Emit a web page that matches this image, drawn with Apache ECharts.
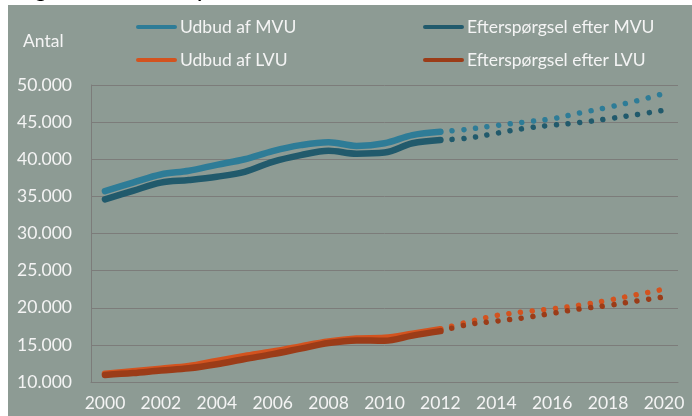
<!DOCTYPE html>
<html>
<head>
<meta charset="utf-8">
<script src="https://cdn.jsdelivr.net/npm/echarts@6/dist/echarts.min.js"></script>
<style>
html,body{margin:0;padding:0;background:#ffffff;}
#chart{width:692px;height:416px;}
</style>
</head>
<body>
<div id="chart"></div>
<script>
// ---- data ----
const years = ['2000','2001','2002','2003','2004','2005','2006','2007','2008','2009','2010',
               '2011','2012','2013','2014','2015','2016','2017','2018','2019','2020'];
// observed 2000-2012
const udbudMVU = [35700, 36850, 37950, 38450, 39250, 40000, 41100, 41900, 42300, 41800, 42150, 43250, 43700];
const efterMVU = [34600, 35750, 36850, 37200, 37650, 38300, 39650, 40550, 41150, 40750, 40900, 42150, 42600];
const udbudLVU = [11100, 11450, 11800, 12150, 12850, 13500, 14100, 14800, 15450, 15850, 15950, 16500, 17100];
const efterLVU = [10950, 11200, 11550, 11850, 12400, 13100, 13750, 14500, 15250, 15600, 15550, 16250, 16850];
// projection 2012-2020
const udbudMVUprog = [43700, 44050, 44550, 45000, 45450, 46250, 47000, 47850, 48850];
const efterMVUprog = [42600, 42850, 43500, 44150, 44600, 44950, 45450, 46000, 46600];
const udbudLVUprog = [17100, 18100, 18950, 19450, 19850, 20350, 21000, 21750, 22500];
const efterLVUprog = [16850, 17750, 18200, 18650, 19250, 19850, 20300, 20900, 21450];

const names = ['Udbud af MVU', 'Efterspørgsel efter MVU', 'Udbud af LVU', 'Efterspørgsel efter LVU'];
const colors = ['#2e7c97', '#215a6c', '#d3531f', '#9b3c18'];
const yAxisName = 'Antal';
const titleText = 'Figur 1. Udbudsanalyse';

const FONT = 'Lato';
const projStart = years.indexOf('2012');

function pad(obs) { return obs.concat(new Array(years.length - obs.length).fill(null)); }
function padProg(prog) { return new Array(projStart).fill(null).concat(prog); }
function fmt(v) { return String(v).replace(/\B(?=(\d{3})+(?!\d))/g, '.'); }

const obs = [udbudMVU, efterMVU, udbudLVU, efterLVU];
const prog = [udbudMVUprog, efterMVUprog, udbudLVUprog, efterLVUprog];

const series = [];
for (let i = 0; i < 4; i++) {
  series.push({
    name: names[i], type: 'line', data: pad(obs[i]), smooth: 0.35, showSymbol: false,
    color: colors[i], z: 3 + i,
    lineStyle: { width: 6.5, color: colors[i], cap: 'round', join: 'round' }
  });
}
for (let i = 0; i < 4; i++) {
  series.push({
    name: names[i], type: 'line', data: padProg(prog[i]), smooth: 0.35, showSymbol: false,
    color: colors[i], z: 3 + i,
    lineStyle: { width: 5.5, color: colors[i], cap: 'round', type: [0.01, 11.7] }
  });
}

const legendIcon = 'path://M5,0 L95,0 A5,5 0 0 1 95,10 L5,10 A5,5 0 0 1 5,0 Z';
const legendBase = {
  orient: 'vertical', icon: legendIcon, itemWidth: 41, itemHeight: 5, itemGap: 13,
  selectedMode: false, top: 17, padding: 0,
  textStyle: { color: '#f4f4f4', fontFamily: FONT, fontSize: 17.5, lineHeight: 20, padding: [0,0,0,-2] },
  itemStyle: { borderWidth: 0 }
};

const chart = echarts.init(document.getElementById('chart'), null, { renderer: 'canvas' });
chart.setOption({
  backgroundColor: 'transparent',
  animation: false,
  textStyle: { fontFamily: FONT },
  graphic: [
    { type: 'rect', z: -10, left: 8, top: 5, shape: { width: 684, height: 411 }, style: { fill: '#8d9b94' }, silent: true },
    { type: 'text', z: -20, left: 19, top: -19, style: { text: titleText, fill: '#000', font: 'bold 20px ' + FONT } },
    { type: 'text', left: 23, top: 32, style: { text: yAxisName, fill: '#f4f4f4', font: '17.5px ' + FONT } }
  ],
  legend: [
    Object.assign({}, legendBase, { left: 136, data: [names[0], names[2]] }),
    Object.assign({}, legendBase, { left: 423, data: [names[1], names[3]] })
  ],
  grid: { left: 91, right: 14, top: 85, bottom: 34, containLabel: false },
  xAxis: {
    type: 'category', data: years, boundaryGap: true,
    axisLine: { show: true, lineStyle: { color: '#7c7c7a', width: 1 } },
    axisTick: { show: false },
    axisLabel: { interval: 1, color: '#f4f4f4', fontSize: 17.5, fontFamily: FONT, margin: 12 },
    splitLine: { show: false }
  },
  yAxis: {
    type: 'value', min: 10000, max: 50000, interval: 5000,
    axisLine: { show: true, lineStyle: { color: '#7c7c7a', width: 1 } },
    axisTick: { show: false },
    axisLabel: { color: '#f4f4f4', fontSize: 17.5, fontFamily: FONT, margin: 19, formatter: fmt },
    splitLine: { show: true, lineStyle: { color: '#7c7c7a', width: 1 } }
  },
  series: series
});
</script>
</body>
</html>
